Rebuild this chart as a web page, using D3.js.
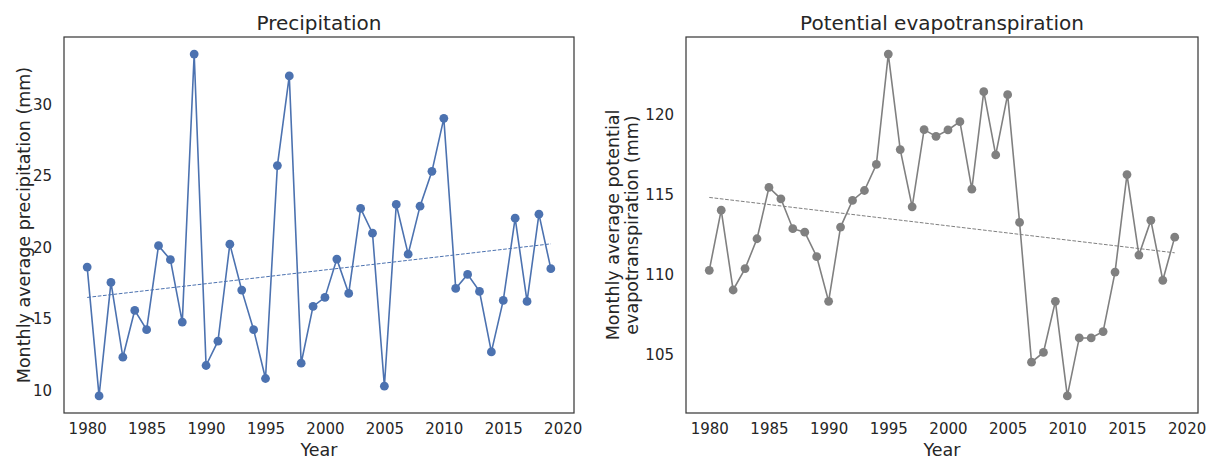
<!DOCTYPE html>
<meta charset="utf-8">
<script src="https://d3js.org/d3.v7.min.js"></script>
<style>
  body { margin: 0; background: #fff; }
  text { font-family: "DejaVu Sans", sans-serif; fill: #262626; }
</style>
<body>
<div id="chart"></div>
<script>
  // ---- data ----
  const years = d3.range(1980, 2020);
  const precip = [18.62, 9.60, 17.55, 12.31, 15.59, 14.24, 20.12, 19.14, 14.77, 33.54,
                  11.73, 13.43, 20.23, 17.01, 14.24, 10.82, 25.73, 32.01, 11.89, 15.87,
                  16.50, 19.18, 16.78, 22.73, 21.00, 10.28, 23.01, 19.53, 22.89, 25.33,
                  29.04, 17.13, 18.11, 16.92, 12.68, 16.29, 22.05, 16.22, 22.33, 18.51];
  const pet = [110.25, 114.02, 109.02, 110.36, 112.23, 115.44, 114.73, 112.86, 112.64, 111.11,
               108.31, 112.96, 114.63, 115.25, 116.88, 123.79, 117.81, 114.23, 119.06, 118.64,
               119.04, 119.56, 115.33, 121.44, 117.48, 121.25, 113.25, 104.50, 105.11, 108.31,
               102.39, 106.02, 106.02, 106.42, 110.14, 116.25, 111.21, 113.38, 109.63, 112.33];
  const xTicks = [1980, 1985, 1990, 1995, 2000, 2005, 2010, 2015, 2020];
  const precipTicks = [10, 15, 20, 25, 30];
  const petTicks = [105, 110, 115, 120];

  const W = 1212, H = 459;
  const svg = d3.select("#chart").append("svg")
    .attr("width", W).attr("height", H);

  // least squares fit, like the original trend line
  function fit(xs, ys) {
    const mx = d3.mean(xs), my = d3.mean(ys);
    let num = 0, den = 0;
    xs.forEach((x, i) => { num += (x - mx) * (ys[i] - my); den += (x - mx) * (x - mx); });
    const b = num / den;
    return x => my + b * (x - mx);
  }

  function panel(opts) {
    const { left, right, top, bottom, values, ticks, color, title, ylabel } = opts;

    // matplotlib-like 5% margins
    const xr = [d3.min(years), d3.max(years)], xp = (xr[1] - xr[0]) * 0.05;
    const x = d3.scaleLinear().domain([xr[0] - xp, xr[1] + xp]).range([left, right]);
    const yr = d3.extent(values), yp = (yr[1] - yr[0]) * 0.05;
    const y = d3.scaleLinear().domain([yr[0] - yp, yr[1] + yp]).range([bottom, top]);

    const g = svg.append("g");

    // x axis
    g.append("g")
      .attr("transform", `translate(0,${bottom})`)
      .call(d3.axisBottom(x).tickValues(xTicks).tickFormat(d3.format("d")).tickSize(0).tickPadding(10))
      .call(a => a.select(".domain").remove())
      .selectAll("text").style("font-size", "15px").attr("fill", "#262626")
        .attr("font-family", "DejaVu Sans");

    // y axis
    g.append("g")
      .attr("transform", `translate(${left},0)`)
      .call(d3.axisLeft(y).tickValues(ticks).tickFormat(d3.format("d")).tickSize(0).tickPadding(12))
      .call(a => a.select(".domain").remove())
      .selectAll("text").style("font-size", "15px").attr("fill", "#262626")
        .attr("font-family", "DejaVu Sans");

    // trend line
    const f = fit(years, values);
    g.append("line")
      .attr("x1", x(xr[0])).attr("y1", y(f(xr[0])))
      .attr("x2", x(xr[1])).attr("y2", y(f(xr[1])))
      .attr("stroke", color).attr("stroke-width", 1)
      .attr("stroke-dasharray", "3.7,1.6");

    // series
    const line = d3.line().x((d, i) => x(years[i])).y(d => y(d));
    g.append("path")
      .datum(values)
      .attr("d", line)
      .attr("fill", "none")
      .attr("stroke", color)
      .attr("stroke-width", 1.6);

    g.selectAll("circle")
      .data(values)
      .join("circle")
        .attr("cx", (d, i) => x(years[i]))
        .attr("cy", d => y(d))
        .attr("r", 4.4)
        .attr("fill", color);

    // frame
    g.append("rect")
      .attr("x", left).attr("y", top)
      .attr("width", right - left).attr("height", bottom - top)
      .attr("fill", "none").attr("stroke", "#3b3b3b").attr("stroke-width", 1.25);

    // title
    g.append("text")
      .attr("x", (left + right) / 2).attr("y", 30)
      .attr("text-anchor", "middle")
      .style("font-size", "20px")
      .text(title);

    // x label
    g.append("text")
      .attr("x", (left + right) / 2).attr("y", 456)
      .attr("text-anchor", "middle")
      .style("font-size", "17.5px")
      .text("Year");

    // y label (one or more lines)
    const cy = (top + bottom) / 2;
    ylabel.lines.forEach((t, i) => {
      g.append("text")
        .attr("transform", `translate(${ylabel.x + i * 19},${cy}) rotate(-90)`)
        .attr("text-anchor", "middle")
        .style("font-size", "17.5px")
        .text(t);
    });
  }

  panel({
    left: 64, right: 574, top: 37, bottom: 413,
    values: precip, ticks: precipTicks, color: "#4c72b0",
    title: "Precipitation",
    ylabel: { x: 30, lines: ["Monthly average precipitation (mm)"] }
  });

  panel({
    left: 686, right: 1198, top: 37, bottom: 413,
    values: pet, ticks: petTicks, color: "#808080",
    title: "Potential evapotranspiration",
    ylabel: { x: 619, lines: ["Monthly average potential", "evapotranspiration (mm)"] }
  });
</script>
</body>
